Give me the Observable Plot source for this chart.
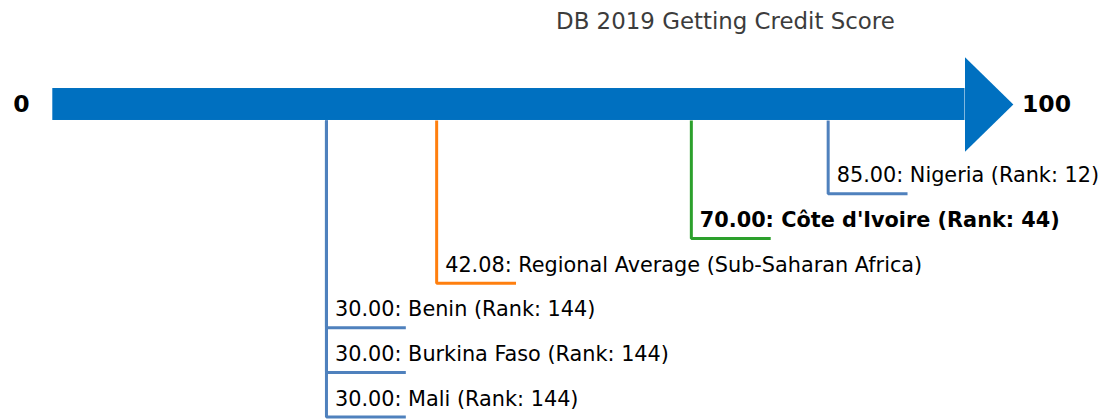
<!DOCTYPE html>
<html>
<head>
<meta charset="utf-8">
<script src="https://cdn.jsdelivr.net/npm/d3@7"></script>
<script src="https://cdn.jsdelivr.net/npm/@observablehq/plot@0.6"></script>
<style>
  html, body { margin: 0; padding: 0; background: #fff; }
  body { width: 1100px; height: 419px; overflow: hidden; font-family: "DejaVu Sans", sans-serif; }
  #title { height: 42px; line-height: 42px; font-size: 22.9px; color: #3c3c3c; padding-left: 556px; white-space: nowrap; box-sizing: border-box; }
</style>
</head>
<body>
<div id="title">DB 2019 Getting Credit Score</div>
<div id="chart"></div>
<script>
const names = ["Nigeria", "Côte d'Ivoire", "Regional Average (Sub-Saharan Africa)", "Benin", "Burkina Faso", "Mali"];
const scores = [85.00, 70.00, 42.08, 30.00, 30.00, 30.00];
const ranks = [12, 44, null, 144, 144, 144];
const kinds = ["peer", "focus", "average", "peer", "peer", "peer"];
const scaleMin = 0;
const scaleMax = 100;

const colorOf = {peer: "#4f81bd", focus: "#2ca02c", average: "#ff7f0e"};
const ARROW = "#0070c0";
const BODY_HALF = 0.358;   // in row units
const HEAD_HALF = 1.06;
const HEAD_LEN = 5.3;      // in score units
const ARM = 8.7;           // horizontal leader length in score units
const ARROW_ROW = -1;

const items = names.map((name, i) => ({
  name,
  score: scores[i],
  rank: ranks[i],
  kind: kinds[i],
  row: i + 1,
  color: colorOf[kinds[i]],
  label: `${scores[i].toFixed(2)}: ${name}` + (ranks[i] != null ? ` (Rank: ${ranks[i]})` : "")
}));

const leaderPts = items.flatMap(d => [
  {name: d.name, color: d.color, x: d.score, y: ARROW_ROW + BODY_HALF},
  {name: d.name, color: d.color, x: d.score, y: d.row},
  {name: d.name, color: d.color, x: d.score + ARM, y: d.row}
]);

const body = [{x1: scaleMin, x2: scaleMax, y1: ARROW_ROW - BODY_HALF, y2: ARROW_ROW + BODY_HALF}];
const head = [
  {x: scaleMax, y: ARROW_ROW - HEAD_HALF},
  {x: scaleMax + HEAD_LEN, y: ARROW_ROW},
  {x: scaleMax, y: ARROW_ROW + HEAD_HALF}
];
const ends = [
  {x: scaleMin, y: ARROW_ROW, t: String(scaleMin)},
  {x: scaleMax, y: ARROW_ROW, t: String(scaleMax)}
];

const chart = Plot.plot({
  width: 1100,
  height: 377,
  margin: 0,
  style: {fontFamily: "'DejaVu Sans', sans-serif", background: "transparent", overflow: "visible"},
  x: {domain: [scaleMin, scaleMax], range: [52.3, 964.5], axis: null},
  y: {domain: [-1, 6], range: [62, 374.6], axis: null},
  color: {type: "identity"},
  marks: [
    Plot.line(leaderPts, {x: "x", y: "y", z: "name", stroke: "color", strokeWidth: 3, strokeLinejoin: "miter", strokeLinecap: "butt", curve: "linear"}),
    Plot.rect(body, {x1: "x1", x2: "x2", y1: "y1", y2: "y2", fill: ARROW}),
    Plot.line(head, {x: "x", y: "y", fill: ARROW, stroke: "none"}),
    Plot.text(ends.slice(0, 1), {x: "x", y: "y", text: "t", dx: -31.5, fontSize: 23.5, fontWeight: "bold", fill: "black"}),
    Plot.text(ends.slice(1), {x: "x", y: "y", text: "t", dx: 81.5, fontSize: 23.5, fontWeight: "bold", fill: "black"}),
    Plot.text(items.filter(d => d.kind !== "focus"), {x: "score", y: "row", text: "label", textAnchor: "start", dx: 8.5, dy: -18.2, fontSize: 20.8, fill: "black"}),
    Plot.text(items.filter(d => d.kind === "focus"), {x: "score", y: "row", text: "label", textAnchor: "start", dx: 8.5, dy: -18.2, fontSize: 20.8, fontWeight: "bold", fill: "black"})
  ]
});
document.getElementById("chart").appendChild(chart);
</script>
</body>
</html>
